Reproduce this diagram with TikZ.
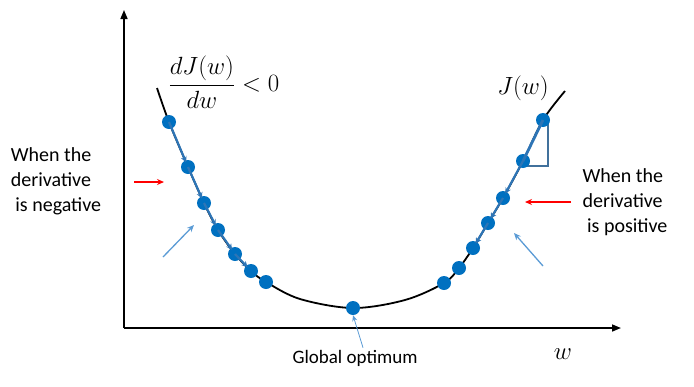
\documentclass[tikz,border=0pt]{standalone}
\usepackage{fontspec}
\setmainfont{Carlito}
\usetikzlibrary{arrows.meta}
\definecolor{dotblue}{HTML}{0070C0}
\definecolor{arrblue}{HTML}{2E75B6}
\definecolor{lightarr}{HTML}{5B9BD5}
\definecolor{trigrey}{HTML}{41719C}
\tikzset{
  dot/.style={circle,fill=dotblue,inner sep=0pt,minimum size=14pt},
  stepline/.style={arrblue,line width=2.2pt,-{Stealth[length=6pt,width=6pt]},shorten >=5pt},
  redarr/.style={red,line width=1.5pt,-{Stealth[length=7pt,width=6pt]}},
  hintarr/.style={lightarr,line width=1.3pt,-{Stealth[length=7pt,width=6pt]}},
  lbl/.style={font=\fontsize{20}{25}\selectfont,align=left,inner sep=0pt},
  mathlbl/.style={inner sep=0pt,font=\fontsize{23}{26}\selectfont},
}
\begin{document}
\begin{tikzpicture}[x=1pt,y=-1pt]
\useasboundingbox (0,0) rectangle (694,386);
% axes
\coordinate (O) at (124,328);
\coordinate (Ytop) at (124,10);
\coordinate (Xend) at (621,328);
\draw[line width=1.6pt,-{Triangle[length=9pt,width=7pt]}] (O) -- (Ytop);
\draw[line width=1.6pt,-{Triangle[length=9pt,width=7pt]}] (O) -- (Xend);
% curve
\draw[line width=1.8pt] plot[smooth,tension=0.55] coordinates {
 (157,88) (169,122) (188,167) (204,203) (218,230) (235,254) (251,271) (266,282)
 (300,299) (353,308) (405,300) (444,283) (459,268) (473,248) (488,223)
 (503,198) (523,161) (543,120) (565,91)};
% triangle
\draw[trigrey,line width=2pt] (523,166) -- (548,166) -- (548,118);
% dots
\node[dot] (l1) at (169,122) {};
\node[dot] (l2) at (188,167) {};
\node[dot] (l3) at (204,203) {};
\node[dot] (l4) at (218,230) {};
\node[dot] (l5) at (235,254) {};
\node[dot] (l6) at (251,271) {};
\node[dot] (l7) at (266,282) {};
\node[dot] (m) at (353,308) {};
\node[dot] (r1) at (543,120) {};
\node[dot] (r2) at (523,161) {};
\node[dot] (r3) at (503,198) {};
\node[dot] (r4) at (488,223) {};
\node[dot] (r5) at (473,248) {};
\node[dot] (r6) at (459,268) {};
\node[dot] (r7) at (444,283) {};
% step arrows
\draw[stepline] (l1.center) -- (l2.center);
\draw[stepline] (l2.center) -- (l3.center);
\draw[stepline] (l3.center) -- (l4.center);
\draw[stepline] (l4.center) -- (l5.center);
\draw[stepline] (l5.center) -- (l6.center);
\draw[arrblue,line width=2.8pt] (r1.center) -- (r2.center);
\draw[stepline] (r2.center) -- (r3.center);
\draw[stepline] (r3.center) -- (r4.center);
\draw[stepline] (r4.center) -- (r5.center);
% labels
\node[lbl] (neg) at (56,181) {When the\\derivative\\\ is negative};
\node[lbl] (pos) at (625,202) {When the\\derivative\\\ is positive};
\coordinate (negs) at (134,182);
\coordinate (nege) at (164,182);
\draw[redarr] (negs) -- (nege);
\coordinate (poss) at (571,202);
\coordinate (pose) at (525,202);
\draw[redarr] (poss) -- (pose);
% hint arrows
\coordinate (h1s) at (163,257);
\coordinate (h1e) at (194,225);
\draw[hintarr] (h1s) -- (h1e);
\coordinate (h2s) at (543,266);
\coordinate (h2e) at (514,233);
\draw[hintarr] (h2s) -- (h2e);
% global optimum
\node[font=\fontsize{19}{22}\selectfont,inner sep=0pt] (go) at (355,358) {Global optimum};
\draw[lightarr,line width=0.8pt,-{Stealth[length=6pt,width=5pt]}] (go.north) ++(8,-2) coordinate (gos) -- (m.south);
% math
\node[mathlbl] (deriv) at (224,82) {$\displaystyle\frac{dJ(w)}{dw}<0$};
\node[mathlbl] (J) at (523,88) {$J(w)$};
\node[mathlbl] (wl) at (563,354) {$w$};
\end{tikzpicture}
\end{document}
